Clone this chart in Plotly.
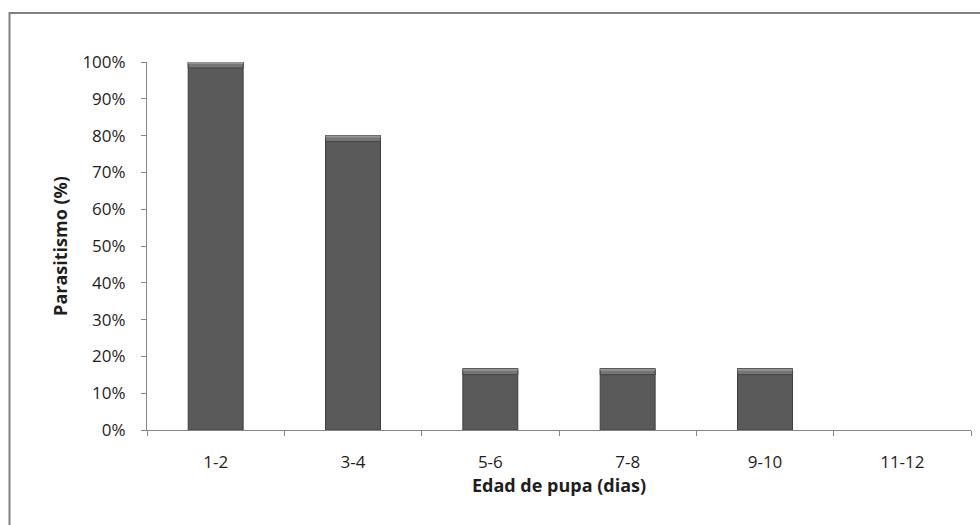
import plotly.graph_objects as go

# Data
categories = ["1-2", "3-4", "5-6", "7-8", "9-10", "11-12"]
parasitismo = [1.0, 0.80, 0.1667, 0.1667, 0.1667, 0.0]
y_ticks = [0, 0.1, 0.2, 0.3, 0.4, 0.5, 0.6, 0.7, 0.8, 0.9, 1.0]

W, H = 980, 525
L, R, T, B = 147, 9, 62, 95
plot_h = H - T - B
plot_w = W - L - R

font_family = "'Open Sans', sans-serif"
axis_grey = "#868686"

fig = go.Figure()

# main bars
fig.add_trace(go.Bar(
    x=categories, y=parasitismo, width=0.4,
    marker=dict(color="#5a5a5a",
                line=dict(color="#3e3e3e", width=[1 if v > 0 else 0 for v in parasitismo])),
    hoverinfo="skip",
))

# bevel highlight along each bar top (two tones)
bevel_outer = 6 / plot_h
bevel_inner = 2 / plot_h
fig.add_trace(go.Bar(
    x=categories,
    y=[bevel_outer if v > 0 else 0 for v in parasitismo],
    base=[v - bevel_outer if v > 0 else 0 for v in parasitismo],
    width=0.4,
    marker=dict(color="#767676", line=dict(color="#444444", width=[1 if v > 0 else 0 for v in parasitismo])),
    hoverinfo="skip",
))
fig.add_trace(go.Bar(
    x=categories,
    y=[bevel_inner if v > 0 else 0 for v in parasitismo],
    base=[v - bevel_inner if v > 0 else 0 for v in parasitismo],
    width=0.4,
    marker=dict(color="#959595", line=dict(width=0)),
    hoverinfo="skip",
))

# outer chart border (left and top edges visible)
bx0 = (9.5 - L) / plot_w
by1 = (H - B - 13) / plot_h
fig.add_shape(type="rect", xref="paper", yref="paper",
              x0=bx0, x1=1.2, y0=-0.5, y1=by1,
              line=dict(color="#808080", width=2), fillcolor="rgba(0,0,0,0)",
              layer="below")

fig.update_layout(
    width=W, height=H,
    margin=dict(l=L, r=R, t=T, b=B),
    paper_bgcolor="white", plot_bgcolor="white",
    barmode="overlay", showlegend=False,
    font=dict(family=font_family, size=17, color="#1e1e1e"),
    xaxis=dict(
        type="category", range=[-0.5, 5.5],
        showline=True, linecolor=axis_grey, linewidth=1,
        ticks="outside", tickson="boundaries", ticklen=5, tickcolor=axis_grey,
        showgrid=False, zeroline=False,
        tickfont=dict(size=17), ticklabelstandoff=17,
        title=dict(text="<b>Edad de pupa (dias)</b>", font=dict(size=18), standoff=5),
    ),
    yaxis=dict(
        range=[0, 1.0], tickvals=y_ticks, tickformat=".0%",
        showline=True, linecolor=axis_grey, linewidth=1,
        ticks="outside", ticklen=5, tickcolor=axis_grey,
        showgrid=False, zeroline=False,
        tickfont=dict(size=17), ticklabelstandoff=12,
        title=dict(text="<b>Parasitismo (%)</b>", font=dict(size=18), standoff=10),
    ),
)

fig.write_html("out.html")
